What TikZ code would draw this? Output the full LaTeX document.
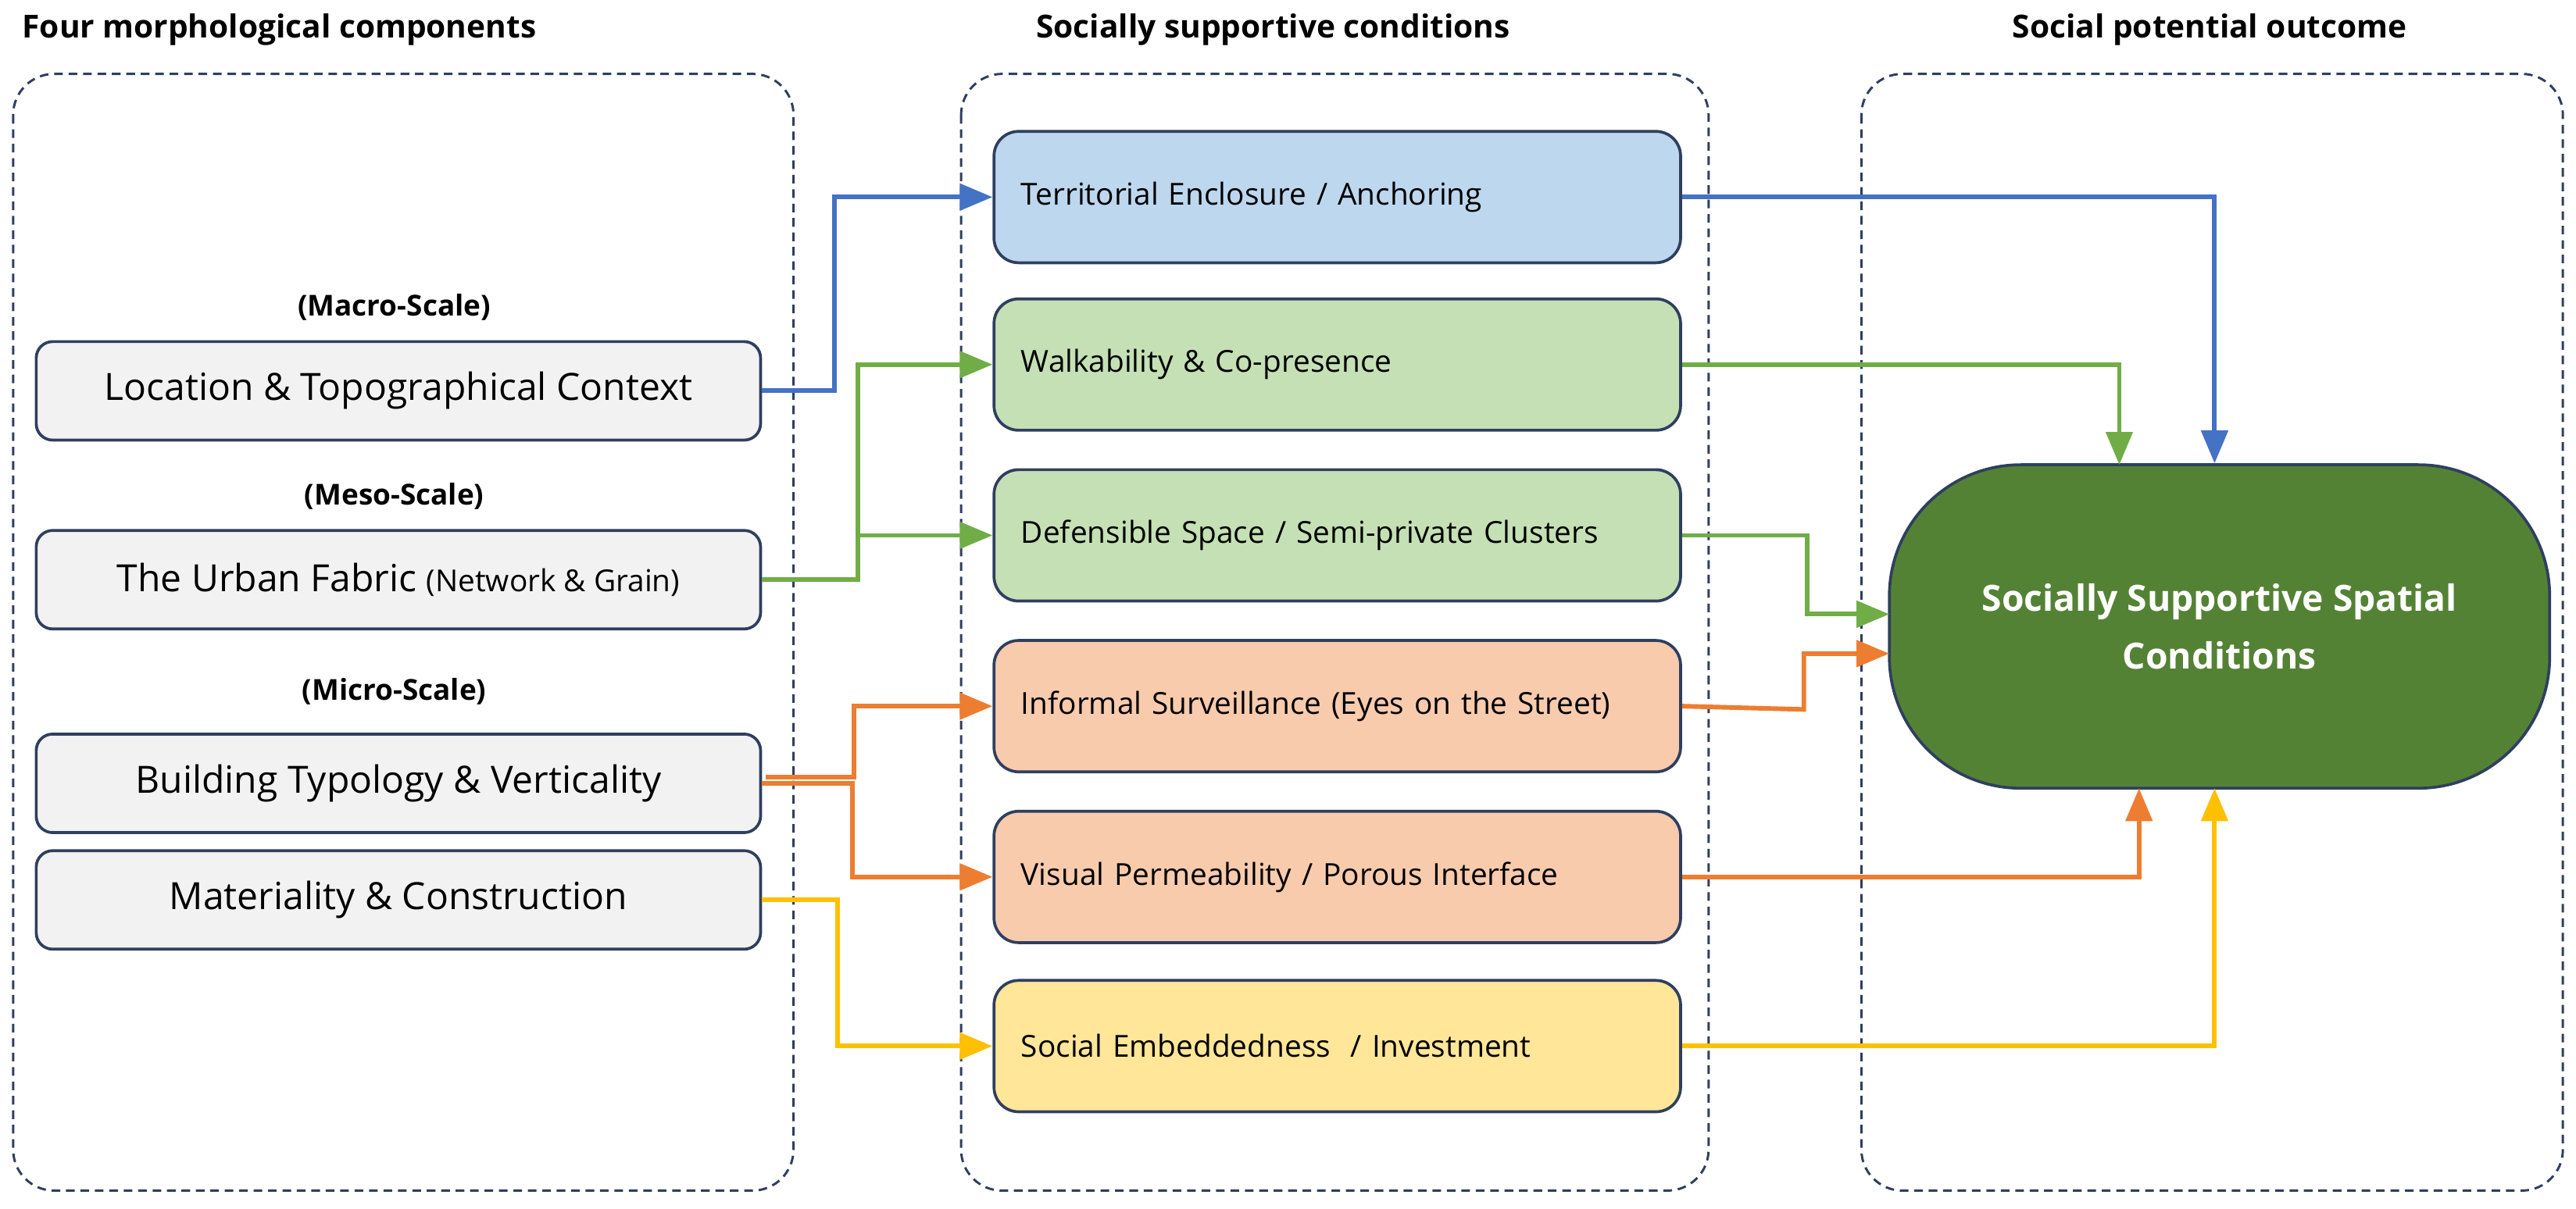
\documentclass[tikz,border=0pt]{standalone}
\usepackage{fontspec}
\setmainfont{Open Sans}
\usetikzlibrary{arrows.meta}
\definecolor{cb}{HTML}{4472C4}\definecolor{cg}{HTML}{70AD47}
\definecolor{co}{HTML}{ED7D31}\definecolor{cy}{HTML}{FFC000}
\definecolor{fb}{HTML}{BDD7EE}\definecolor{fg}{HTML}{C5E0B4}
\definecolor{fo}{HTML}{F8CBAD}\definecolor{fy}{HTML}{FFE699}
\definecolor{fgr}{HTML}{F2F2F2}\definecolor{dg}{HTML}{548235}
\definecolor{nav}{HTML}{2F3F5F}
\begin{document}
\begin{tikzpicture}[x=0.02cm,y=-0.02cm,
 panel/.style={draw=nav,densely dashed,line width=0.8pt,rounded corners=0.5cm},
 lbox/.style={draw=nav,fill=fgr,line width=1pt,rounded corners=0.2cm,minimum width=8.82cm,minimum height=1.2cm,font=\fontsize{13}{15}\selectfont},
 mbox/.style={draw=nav,line width=1pt,rounded corners=0.3cm,minimum width=8.36cm,minimum height=1.6cm,text width=7.7cm,align=left,font=\fontsize{10.5}{17}\selectfont},
 hd/.style={font=\bfseries\fontsize{11}{13}\selectfont},
 sc/.style={font=\bfseries\fontsize{10}{12}\selectfont},
 con/.style={line width=1.6pt,-{Triangle[length=0.4cm,width=0.32cm]}}]
\useasboundingbox (0,0) rectangle (1568,736);
\node[hd] (h1) at (170,18) {Four morphological components};
\node[hd] (h2) at (775,18) {Socially supportive conditions};
\node[hd] (h3) at (1345,18) {Social potential outcome};
\draw[panel] (8,45) rectangle (483,725);
\draw[panel] (585,45) rectangle (1040,725);
\draw[panel] (1133,45) rectangle (1560,725);
\node[sc] (s1) at (240,187) {(Macro-Scale)};
\node[sc] (s2) at (240,302) {(Meso-Scale)};
\node[sc] (s3) at (240,421) {(Micro-Scale)};
\node[lbox] (l1) at (242.5,238) {Location \& Topographical Context};
\node[lbox] (l2) at (242.5,353) {The Urban Fabric {\fontsize{10.5}{12}\selectfont(Network \& Grain)}};
\node[lbox] (l3) at (242.5,477) {Building Typology \& Verticality};
\node[lbox] (l4) at (242.5,548) {Materiality \& Construction};
\node[mbox,fill=fb] (m1) at (814,120) {Territorial Enclosure / Anchoring};
\node[mbox,fill=fg] (m2) at (814,222) {Walkability \& Co-presence};
\node[mbox,fill=fg] (m3) at (814,326) {Defensible Space / Semi-private Clusters};
\node[mbox,fill=fo] (m4) at (814,430) {Informal Surveillance (Eyes on the Street)};
\node[mbox,fill=fo] (m5) at (814,534) {Visual Permeability / Porous Interface};
\node[mbox,fill=fy] (m6) at (814,637) {Social Embeddedness~ / Investment};
\node[draw=nav,fill=dg,line width=1pt,rounded corners=1.6cm,minimum width=8.04cm,minimum height=3.94cm,text=white,align=center,font=\bfseries\fontsize{12.5}{20}\selectfont] (g) at (1351,381.5) {Socially Supportive Spatial\\Conditions};
% blue
\draw[con,cb] (l1.east) -- (508,238) |- (m1.west);
\draw[con,cb] (m1.east) -| (g.north -| 1348,0);
% green
\draw[con,cg] (l2.east) -- (522,353) |- (m2.west);
\coordinate (gb) at (522,326);
\draw[con,cg] (gb) -- (m3.west);
\draw[con,cg] (m2.east) -| (1290,283);
\draw[con,cg] (m3.east) -- (1100,326) |- (1150,374);
% orange
\draw[con,co] (466,473) -- (520,473) |- (m4.west);
\draw[con,co] (l3.east) -- (519,477) |- (m5.west);
\draw[con,co] (m4.east) -- (1098,432) |- (1150,398);
\draw[con,co] (m5.east) -| (1302,480);
% yellow
\draw[con,cy] (l4.east) -- (510,548) |- (m6.west);
\draw[con,cy] (m6.east) -| (1348,480);
\end{tikzpicture}
\end{document}
